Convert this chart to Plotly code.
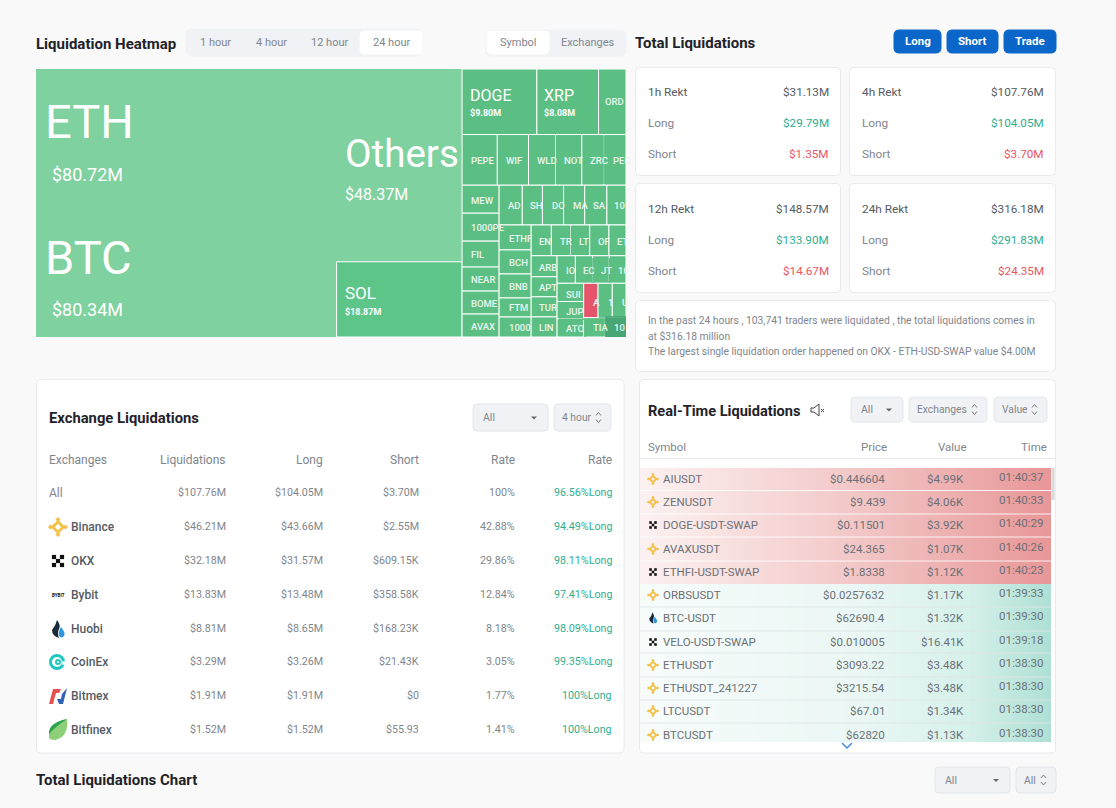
import plotly.graph_objects as go

# ---- heatmap data ($M) ----
# groups nest the way the page's treemap is cut, leaves carry the values
cell_labels = [
    "ETH", "BTC", "Others", "SOL", "DOGE", "XRP", "ORDI",
    "PEPE", "WIF", "WLD", "NOT", "ZRO", "PEOPLE",
    "MEW", "1000PEPE", "FIL", "NEAR", "BOME", "AVAX",
    "ADA", "SHIB", "DOT", "MATIC", "SATS", "10000",
    "ETHFI", "BCH", "BNB", "FTM", "1000BONK",
    "ENS", "TRX", "LTC", "OP", "ETC",
    "ARB", "APT", "TURBO", "LINK",
    "IO", "ECOIN", "JTO", "1000X",
    "SUI", "JUP", "ATOM",
    "AI", "1INCH", "UNI",
    "TIA", "10000Y",
]
cell_parents = [
    "g_top", "g_top", "g_mid", "g_mid", "g_row1", "g_row1", "g_row1",
    "g_row2", "g_row2", "g_row2", "g_row2", "g_row2", "g_row2",
    "g_col1", "g_col1", "g_col1", "g_col1", "g_col1", "g_col1",
    "g_row3", "g_row3", "g_row3", "g_row3", "g_row3", "g_row3",
    "g_col2", "g_col2", "g_col2", "g_col2", "g_col2",
    "g_row4", "g_row4", "g_row4", "g_row4", "g_row4",
    "g_col3", "g_col3", "g_col3", "g_col3",
    "g_row5", "g_row5", "g_row5", "g_row5",
    "g_col4", "g_col4", "g_col4",
    "g_row6", "g_row6", "g_row6",
    "g_row7", "g_row7",
]
cell_values = [
    80.72, 80.34, 48.37, 18.87, 9.80, 8.08, 3.60,
    3.57, 3.16, 2.75, 2.65, 2.24, 2.24,
    2.07, 2.07, 1.92, 1.78, 1.70, 1.70,
    1.84, 1.60, 1.68, 1.68, 1.76, 1.52,
    1.60, 1.54, 1.54, 1.22, 1.28,
    1.24, 1.18, 1.18, 1.18, 1.05,
    1.09, 1.04, 1.04, 1.04,
    1.01, 0.95, 0.92, 0.92,
    0.97, 0.92, 0.97,
    0.98, 0.98, 0.94,
    0.84, 0.80,
]
group_ids = ["root", "g_top", "g_mid", "g_rest", "g_row1", "g_row2", "g_low1", "g_col1", "g_low2",
             "g_row3", "g_low3", "g_col2", "g_low4", "g_row4", "g_low5", "g_col3", "g_low6",
             "g_row5", "g_low7", "g_col4", "g_low8", "g_row6", "g_row7"]
group_parents = ["", "root", "root", "root", "g_rest", "g_rest", "g_rest", "g_low1", "g_low1",
                 "g_low2", "g_low2", "g_low3", "g_low3", "g_low4", "g_low4", "g_low5", "g_low5",
                 "g_low6", "g_low6", "g_low7", "g_low7", "g_low8", "g_low8"]

# text shown on the cells, cut off where the cell cuts it
small_cell_text = [
    "ORD", "PEPE", "WIF", "WLD", "NOT", "ZRC", "PEC",
    "MEW", "1000PE", "FIL", "NEAR", "BOME", "AVAX",
    "AD", "SH", "DO", "MA", "SA", "10",
    "ETHF", "BCH", "BNB", "FTM", "1000",
    "EN", "TR", "LT", "OF", "ET",
    "ARB", "APT", "TUR", "LIN",
    "IO", "EC", "JT", "10",
    "SUI", "JUP", "ATO",
    "A", "1", "U", "TIA", "10",
]
small_cell_x = [
    605, 471, 506, 537, 564, 590, 613,
    471, 471, 471, 471, 471, 471,
    508, 530, 552, 573, 593, 614,
    509, 509, 509, 509, 509,
    539, 560, 579, 598, 617,
    539, 539, 539, 539,
    566, 583, 601, 618,
    566, 566, 566,
    593, 608, 622, 593, 614,
]
small_cell_y = [
    101, 160, 160, 160, 160, 160, 160,
    200, 227, 254, 279, 303, 326,
    205, 205, 205, 205, 205, 205,
    238, 262, 286, 307, 327,
    241, 241, 241, 241, 241,
    267, 287, 307, 327,
    270, 270, 270, 270,
    294, 311, 328,
    302, 302, 302, 327, 327,
]

# ---- total liquidations cards ----
card_names = ["1h Rekt", "4h Rekt", "12h Rekt", "24h Rekt"]
card_total = ["$31.13M", "$107.76M", "$148.57M", "$316.18M"]
card_long = ["$29.79M", "$104.05M", "$133.90M", "$291.83M"]
card_short = ["$1.35M", "$3.70M", "$14.67M", "$24.35M"]
summary_lines = [
    "In the past 24 hours , 103,741 traders were liquidated , the total liquidations comes in",
    "at $316.18 million",
    "The largest single liquidation order happened on OKX - ETH-USD-SWAP value $4.00M",
]

# ---- exchange table ----
exchange_names = ["All", "Binance", "OKX", "Bybit", "Huobi", "CoinEx", "Bitmex", "Bitfinex"]
exchange_total = ["$107.76M", "$46.21M", "$32.18M", "$13.83M", "$8.81M", "$3.29M", "$1.91M", "$1.52M"]
exchange_long = ["$104.05M", "$43.66M", "$31.57M", "$13.48M", "$8.65M", "$3.26M", "$1.91M", "$1.52M"]
exchange_short = ["$3.70M", "$2.55M", "$609.15K", "$358.58K", "$168.23K", "$21.43K", "$0", "$55.93"]
exchange_share = ["100%", "42.88%", "29.86%", "12.84%", "8.18%", "3.05%", "1.77%", "1.41%"]
exchange_rate = ["96.56%Long", "94.49%Long", "98.11%Long", "97.41%Long", "98.09%Long", "99.35%Long",
                 "100%Long", "100%Long"]

# ---- real time table ----
rt_symbols = ["AIUSDT", "ZENUSDT", "DOGE-USDT-SWAP", "AVAXUSDT", "ETHFI-USDT-SWAP", "ORBSUSDT", "BTC-USDT",
              "VELO-USDT-SWAP", "ETHUSDT", "ETHUSDT_241227", "LTCUSDT", "BTCUSDT"]
rt_venue = ["binance", "binance", "okx", "binance", "okx", "binance", "huobi",
            "okx", "binance", "binance", "binance", "binance"]
rt_price = ["$0.446604", "$9.439", "$0.11501", "$24.365", "$1.8338", "$0.0257632", "$62690.4",
            "$0.010005", "$3093.22", "$3215.54", "$67.01", "$62820"]
rt_value = ["$4.99K", "$4.06K", "$3.92K", "$1.07K", "$1.12K", "$1.17K", "$1.32K",
            "$16.41K", "$3.48K", "$3.48K", "$1.34K", "$1.13K"]
rt_time = ["01:40:37", "01:40:33", "01:40:29", "01:40:26", "01:40:23", "01:39:33", "01:39:30",
           "01:39:18", "01:38:30", "01:38:30", "01:38:30", "01:38:30"]

FONT = "Roboto"
BG = "#f9f9fa"
DARK = "#1f2329"
TEXT = "#555b63"
GREY = "#80868d"
ROWTEXT = "#6b7076"
GREEN = "#2fae8f"
RED = "#e8555f"
BLUE = "#0a66c8"
BORDER = "#e8eaed"
BTN = "#f0f2f5"
CELL = "#5bbf84"

fig = go.Figure()
shapes = []
notes = []


def round_rect(x0, y0, x1, y1, r=4):
    return (f"M{x0+r},{y0} L{x1-r},{y0} Q{x1},{y0} {x1},{y0+r} L{x1},{y1-r} Q{x1},{y1} {x1-r},{y1} "
            f"L{x0+r},{y1} Q{x0},{y1} {x0},{y1-r} L{x0},{y0+r} Q{x0},{y0} {x0+r},{y0} Z")


def box(x0, y0, x1, y1, fill="white", line=BORDER, r=4, layer="below"):
    shapes.append(dict(type="path", path=round_rect(x0, y0, x1, y1, r), fillcolor=fill,
                       line=dict(color=line, width=1), layer=layer))


def label(x, y, text, size=11.5, color=TEXT, anchor="left", weight="normal"):
    notes.append(dict(x=x, y=y, xref="x", yref="y", text=text, showarrow=False, xanchor=anchor, yanchor="middle",
                      font=dict(family=FONT, size=size, color=color, weight=weight), borderpad=0, borderwidth=0))


def path(d, fill="rgba(0,0,0,0)", line=None, width=1, layer="above"):
    shapes.append(dict(type="path", path=d, fillcolor=fill, layer=layer,
                       line=dict(color=line or "rgba(0,0,0,0)", width=width if line else 0)))


def markers(xs, ys, symbol, size, color, width=0):
    fig.add_trace(go.Scatter(x=xs, y=ys, mode="markers", hoverinfo="skip", showlegend=False,
                             marker=dict(symbol=symbol, size=size, color=color,
                                         line=dict(color=color, width=width))))


def icon_binance(cx, cy, s=1.0):
    d = 7.5 * s
    markers([cx], [cy], "diamond-open", 8 * s, "#f3c04a", 3 * s)
    markers([cx - d, cx + d, cx, cx], [cy, cy, cy - d, cy + d], "diamond", 4 * s, "#f3c04a")


def icon_okx(cx, cy, s=1.0):
    d = 4 * s
    markers([cx - d, cx + d, cx, cx - d, cx + d], [cy - d, cy - d, cy, cy + d, cy + d], "square", 4.2 * s, "#111111")


def icon_huobi(cx, cy, s=1.0):
    path(f"M{cx-1*s},{cy-9*s} Q{cx+3*s},{cy-4*s} {cx+1*s},{cy} Q{cx-1*s},{cy+4*s} {cx+1*s},{cy+9*s} "
         f"Q{cx-6*s},{cy+7*s} {cx-6*s},{cy+1*s} Q{cx-2*s},{cy-4*s} {cx-1*s},{cy-9*s} Z", fill="#1b2a3a")
    path(f"M{cx+3*s},{cy-2*s} Q{cx+7*s},{cy+3*s} {cx+6.5*s},{cy+6*s} Q{cx+5*s},{cy+9*s} {cx+3*s},{cy+8.5*s} "
         f"Q{cx},{cy+7*s} {cx+1*s},{cy+3*s} Q{cx+1.5*s},{cy} {cx+3*s},{cy-2*s} Z", fill="#2f95dc")


def icon_coinex(cx, cy):
    markers([cx], [cy], "circle-open", 13, "#1fc7c1", 3)
    markers([cx + 1], [cy], "circle-open", 4, "#1fc7c1", 2)
    markers([cx + 7], [cy + 1], "square", 3.5, "white")


def icon_bitmex(cx, cy):
    path(f"M{cx-9},{cy+8} L{cx-5},{cy-7} L{cx+3},{cy-7} L{cx+1},{cy-3} L{cx-2},{cy-3} L{cx-5},{cy+8} Z",
         fill="#e8504f")
    path(f"M{cx+1},{cy+8} L{cx+5},{cy+8} L{cx+9},{cy-8} L{cx+4},{cy-2} L{cx+3},{cy+3} L{cx-1},{cy+3} Z",
         fill="#2f62b8")


def icon_bitfinex(cx, cy):
    path(f"M{cx+9},{cy-11} Q{cx+11},{cy+7} {cx-3},{cy+10} Q{cx-9},{cy+10} {cx-9},{cy+7} "
         f"Q{cx-10},{cy-7} {cx+9},{cy-11} Z", fill="#8ccf78")
    path(f"M{cx+9},{cy-11} Q{cx-2},{cy-4} {cx-9},{cy+4} Q{cx-10},{cy-7} {cx+9},{cy-11} Z", fill="#2ba34e")


def button(x0, x1, y0, y1, text, caret="updown"):
    box(x0, y0, x1, y1, fill=BTN, line="#e3e6ea")
    cy = (y0 + y1) / 2
    if caret == "down":
        label(x0 + 10, cy, text, size=10.5, color=GREY)
        cx = x1 - 14
        path(f"M{cx-3},{cy-1} L{cx+3},{cy-1} L{cx},{cy+2} Z", fill="#666666")
    else:
        label(x0 + 8, cy, text, size=10.3, color=GREY)
        cx = x1 - 12.5
        path(f"M{cx-2.5},{cy-2} L{cx},{cy-5} L{cx+2.5},{cy-2}", line="#777777")
        path(f"M{cx-2.5},{cy+2} L{cx},{cy+5} L{cx+2.5},{cy+2}", line="#777777")


# ---- heatmap header ----
label(36, 44, "Liquidation Heatmap", size=15, color=DARK, weight="bold")
box(186, 29, 422, 56, fill=BTN, line=BTN, r=6)
box(360, 31, 422, 54, fill="white", line="white")
for tab, cx in zip(["1 hour", "4 hour", "12 hour", "24 hour"], [215, 271, 329, 391]):
    label(cx, 42, tab, size=11, color=GREY, anchor="center")
box(486, 30, 626, 56, fill=BTN, line=BTN, r=6)
box(487, 31, 549, 54, fill="white", line="white")
label(518, 42, "Symbol", size=11, color=GREY, anchor="center")
label(587, 42, "Exchanges", size=11, color=GREY, anchor="center")

# ---- treemap ----
leaf_colors = ["#80d1a0", "#80d1a0", "#80d1a0", "#5dc588"] + [CELL] * (len(cell_labels) - 4)
leaf_colors[cell_labels.index("AI")] = "#e5546a"
leaf_colors[cell_labels.index("10000Y")] = "#47a674"
leaf_lines = [0, 0, 0, 1] + [1] * (len(cell_labels) - 4)
leaf_lines[cell_labels.index("10000Y")] = 0

fig.add_trace(go.Treemap(
    ids=group_ids + cell_labels,
    labels=group_ids + cell_labels,
    parents=group_parents + cell_parents,
    values=[0] * len(group_ids) + cell_values,
    branchvalues="remainder",
    sort=False,
    tiling=dict(packing="slice-dice", pad=0),
    pathbar=dict(visible=False),
    textinfo="none",
    hoverinfo="skip",
    maxdepth=-1,
    marker=dict(colors=["#80d1a0"] * len(group_ids) + leaf_colors,
                line=dict(color="white", width=[0] * len(group_ids) + leaf_lines),
                pad=dict(t=0, l=0, r=0, b=0), depthfade=False),
    domain=dict(x=[36 / 1116, 626 / 1116], y=[1 - 337 / 808, 1 - 69 / 808]),
))

# some neighbouring cells show no divider in the page
for x0, y0, x1, y1 in [(556.6, 135.5, 556.6, 184), (604, 135.5, 604, 184), (571.4, 226, 571.4, 255),
                       (593, 258, 593, 283), (609.5, 258, 609.5, 283),
                       (558.5, 319.3, 584.5, 319.3), (585, 319, 585, 337), (599, 317, 606, 317),
                       (606, 317, 626, 317), (606, 317, 606, 337)]:
    color = "#47a674" if (x0, x1) in [(606, 626), (606, 606)] else CELL
    shapes.append(dict(type="line", x0=x0, y0=y0, x1=x1, y1=y1, layer="above", line=dict(color=color, width=1.6)))

WHITE = "white"
label(45, 121, "ETH", size=47, color=WHITE)
label(52, 174, "$80.72M", size=18, color=WHITE)
label(45, 257, "BTC", size=47, color=WHITE)
label(52, 309, "$80.34M", size=18, color=WHITE)
label(345, 153, "Others", size=38.6, color=WHITE)
label(345, 194, "$48.37M", size=16, color=WHITE)
label(345, 293, "SOL", size=17, color=WHITE)
label(345, 312, "$18.87M", size=9, color=WHITE, weight="bold")
label(470, 95, "DOGE", size=16, color=WHITE)
label(470, 113, "$9.80M", size=9, color=WHITE, weight="bold")
label(544, 95, "XRP", size=16, color=WHITE)
label(544, 113, "$8.08M", size=9, color=WHITE, weight="bold")
for text, x, y in zip(small_cell_text, small_cell_x, small_cell_y):
    label(x, y, text, size=9.5, color="#e8f6ee", weight=500)

# ---- total liquidations ----
label(635, 43, "Total Liquidations", size=15, color=DARK, weight="bold")
for text, x0, x1 in zip(["Long", "Short", "Trade"], [894, 947, 1004], [941, 998, 1056]):
    box(x0, 30, x1, 53, fill=BLUE, line=BLUE, r=5)
    label((x0 + x1) / 2, 41, text, size=11.5, color="white", anchor="center", weight="bold")

card_x = [(635.5, 840.5), (849.5, 1055.5), (635.5, 840.5), (849.5, 1055.5)]
card_y = [(67.5, 175.5), (67.5, 175.5), (183.5, 292.5), (183.5, 292.5)]
card_rows = [[91.5, 123, 154], [91.5, 123, 154], [208.5, 240, 271], [208.5, 240, 271]]
for i in range(4):
    (x0, x1), (y0, y1) = card_x[i], card_y[i]
    box(x0, y0, x1, y1)
    left, right = x0 + 12.5, x1 - 12
    for row, (name, value, color) in enumerate([(card_names[i], card_total[i], TEXT),
                                                ("Long", card_long[i], GREEN),
                                                ("Short", card_short[i], RED)]):
        y = card_rows[i][row]
        label(left, y, name, size=11.8, color=TEXT if row == 0 else GREY)
        label(right, y, value, size=11.7, color=color, anchor="right")

box(635.5, 300.5, 1055.5, 371.5)
for line, y in zip(summary_lines, [320.5, 336, 351.5]):
    label(648, y, line, size=10.3, color=GREY)

# ---- exchange table ----
box(36.5, 379.5, 624, 753)
label(49, 418, "Exchange Liquidations", size=14.8, color=DARK, weight="bold")
button(473, 548, 404, 431, "All", caret="down")
button(554, 611, 404, 431, "4 hour")
ex_cols = [226, 323, 419, 515, 612]
label(49, 460, "Exchanges", size=12, color=GREY)
for text, x in zip(["Liquidations", "Long", "Short", "Rate", "Rate"], ex_cols):
    label(x, 460, text, size=12, color=GREY, anchor="right")
ex_rows = [492, 526, 560, 594, 628, 661, 695, 729]
for i, y in enumerate(ex_rows):
    if i == 0:
        label(49, y + 1, exchange_names[i], size=12, color=GREY)
    else:
        label(70.5, y + 1, exchange_names[i], size=12, color=TEXT, weight=500)
    label(ex_cols[0], y, exchange_total[i], size=10.7, color=GREY, anchor="right")
    label(ex_cols[1], y, exchange_long[i], size=10.7, color=GREY, anchor="right")
    label(ex_cols[2], y, exchange_short[i], size=10.7, color=GREY, anchor="right")
    label(ex_cols[3], y, exchange_share[i], size=10.7, color=GREY, anchor="right")
    label(ex_cols[4], y, exchange_rate[i], size=10.7, color=GREEN, anchor="right")
icon_binance(58, 527)
icon_okx(58, 561)
label(58, 595, "BYBIT", size=4.5, color="#111111", anchor="center", weight="bold")
icon_huobi(58, 629)
icon_coinex(57, 662)
icon_bitmex(58, 696)
icon_bitfinex(58, 730)

# ---- real time table ----
box(639.5, 379.5, 1055.5, 753)
label(648, 411, "Real-Time Liquidations", size=14.6, color=DARK, weight="bold")
path("M811,408 L814,408 L819,404 L819,416 L814,412 L811,412 Z", line="#444444")
path("M821,409 L824,412 M824,409 L821,412", line="#444444")
button(851, 903, 397, 422, "All", caret="down")
button(909, 987, 397, 422, "Exchanges")
button(994, 1047, 397, 422, "Value")
label(648, 447, "Symbol", size=11.5, color=GREY)
for text, x in zip(["Price", "Value", "Time"], [887, 967, 1047]):
    label(x, 447, text, size=11.5, color=GREY, anchor="right")
shapes.append(dict(type="line", x0=640, x1=1055, y0=458.5, y1=458.5, line=dict(color="#e6e8eb", width=1)))

# row backgrounds: a fine colour ramp, only styling
grad_n = 137
grad_x = [640 + 3 * i for i in range(grad_n + 1)]
grad_z = [i / (grad_n - 1) for i in range(grad_n)]
for y_rows, scale in [([468, 584], [[0, "#fcf1f1"], [0.5, "#f3c9c9"], [1, "#e89798"]]),
                      ([584, 742], [[0, "#f7fcfb"], [0.55, "#eaf7f4"], [0.8, "#d6f0ea"], [1, "#aee0d6"]])]:
    fig.add_trace(go.Heatmap(x=grad_x, y=y_rows, z=[grad_z], zmin=0, zmax=1,
                             colorscale=scale, showscale=False, hoverinfo="skip"))
for y in [490.5, 514, 537, 561, 607, 631, 653, 677, 700, 723]:
    shapes.append(dict(type="line", x0=640, x1=1051, y0=y, y1=y, layer="above",
                       line=dict(color="rgba(255,255,255,0.85)" if y < 584 else "rgba(222,229,229,0.9)", width=1)))
shapes.append(dict(type="rect", x0=1051.5, x1=1054.5, y0=468, y1=500, fillcolor="#d8d8d8", line=dict(width=0),
                   layer="above"))
rt_rows = [479, 502, 525, 549, 572, 595, 618, 642, 665, 688, 711, 735]
for i, y in enumerate(rt_rows):
    label(662.5, y, rt_symbols[i], size=11.5, color=ROWTEXT)
    label(885, y, rt_price[i], size=11.5, color=ROWTEXT, anchor="right")
    label(964, y, rt_value[i], size=11.5, color=ROWTEXT, anchor="right")
    label(1043, y - 2, rt_time[i], size=11.5, color=ROWTEXT, anchor="right")
    if rt_venue[i] == "binance":
        icon_binance(653, y, 0.62)
    elif rt_venue[i] == "okx":
        icon_okx(653, y, 0.62)
    else:
        icon_huobi(653, y, 0.62)
path("M842,743 L847,748 L852,743", line="#3d8fe0", width=1.5)

# ---- bottom header ----
label(36, 780, "Total Liquidations Chart", size=15, color=DARK, weight="bold")
button(935, 1010, 767, 793, "All", caret="down")
button(1016, 1056, 767, 793, "All")

fig.update_layout(
    width=1116,
    height=808,
    autosize=False,
    margin=dict(l=0, r=0, t=0, b=0),
    paper_bgcolor=BG,
    plot_bgcolor="rgba(0,0,0,0)",
    showlegend=False,
    hovermode=False,
    dragmode=False,
    shapes=shapes,
    annotations=notes,
    xaxis=dict(range=[0, 1116], visible=False, fixedrange=True),
    yaxis=dict(range=[808, 0], visible=False, fixedrange=True),
)

fig.write_html(
    "out.html",
    config={"displayModeBar": False},
    post_script="document.body.style.margin='0';document.body.style.overflow='hidden';",
)
